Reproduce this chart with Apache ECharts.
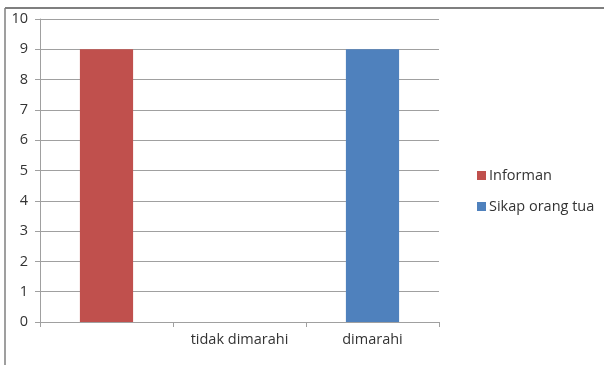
<!DOCTYPE html>
<html>
<head>
<meta charset="utf-8">
<script src="https://cdn.jsdelivr.net/npm/echarts@6/dist/echarts.min.js"></script>
<style>
  html, body { margin: 0; padding: 0; background: #fff; }
  #chart { width: 604px; height: 365px; }
</style>
</head>
<body>
<div id="chart"></div>
<script>
// Categories along the horizontal axis
const categories = ['', 'tidak dimarahi', 'dimarahi'];
// Series values (null = no bar in that category)
const informan = [9, null, null];
const sikapOrangTua = [null, null, 9];
// Value axis range
const yMin = 0, yMax = 10, yStep = 1;

const FONT = '"Open Sans", "Noto Sans", sans-serif';
const TEXT = '#333333';
const LINE = '#a0a0a0';
const chart = echarts.init(document.getElementById('chart'), null, { renderer: 'canvas' });

chart.setOption({
  backgroundColor: '#ffffff',
  animation: false,
  grid: { left: 40, top: 19, width: 399, height: 303, containLabel: false },
  legend: {
    orient: 'vertical',
    left: 472,
    top: 163,
    itemWidth: 9,
    itemHeight: 9,
    itemGap: 16,
    icon: 'rect',
    textStyle: { fontFamily: FONT, fontSize: 14.5, color: TEXT, padding: [0, 0, 0, -2] },
    data: ['Informan', 'Sikap orang tua']
  },
  xAxis: {
    type: 'category',
    data: categories,
    boundaryGap: true,
    axisLine: { lineStyle: { color: LINE, width: 1 } },
    axisTick: { show: true, interval: 0, length: 5, inside: false, lineStyle: { color: LINE } },
    axisLabel: { interval: 0, margin: 10, fontFamily: FONT, fontSize: 14.5, color: TEXT },
    splitLine: { show: false }
  },
  yAxis: {
    type: 'value',
    min: yMin,
    max: yMax,
    interval: yStep,
    axisLine: { show: true, lineStyle: { color: LINE, width: 1 } },
    axisTick: { show: true, length: 5, lineStyle: { color: LINE } },
    axisLabel: { margin: 12, fontFamily: FONT, fontSize: 14.5, color: TEXT },
    splitLine: { show: true, lineStyle: { color: LINE, width: 1 } }
  },
  series: [
    {
      name: 'Informan',
      type: 'bar',
      data: informan,
      barWidth: '40%',
      barGap: '-100%',
      itemStyle: { color: '#C0504D' }
    },
    {
      name: 'Sikap orang tua',
      type: 'bar',
      data: sikapOrangTua,
      barWidth: '40%',
      barGap: '-100%',
      itemStyle: { color: '#4F81BD' }
    }
  ],
  graphic: [
    // Frame around the chart area (top and left edges)
    { type: 'line', shape: { x1: 5, y1: 8, x2: 604, y2: 8 }, style: { stroke: '#7f7f7f', lineWidth: 2 }, silent: true },
    { type: 'line', shape: { x1: 5, y1: 8, x2: 5, y2: 365 }, style: { stroke: '#7f7f7f', lineWidth: 1.5 }, silent: true }
  ]
});
</script>
</body>
</html>
